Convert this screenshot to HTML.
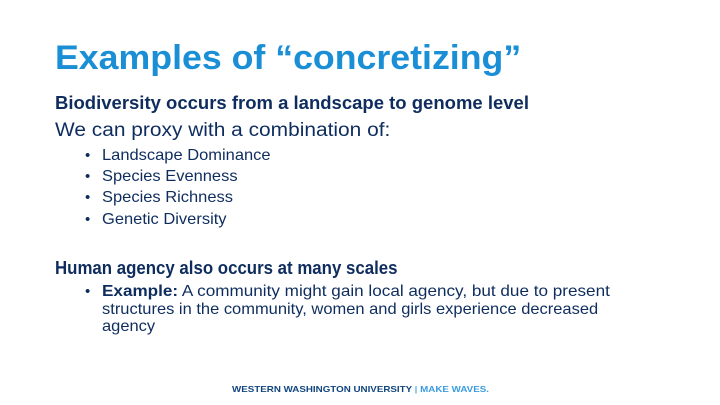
<!DOCTYPE html>
<html><head><meta charset="utf-8"><style>
body{margin:0;width:720px;height:405px;background:#fff;overflow:hidden;position:relative;font-family:"Liberation Sans",sans-serif;color:#0e2d5e}
.a{position:absolute;white-space:nowrap;transform-origin:0 50%}
.b{position:absolute;left:85px;font-size:15px;line-height:20px}
.t{position:absolute;left:102px;white-space:nowrap;transform-origin:0 50%;font-size:16px;line-height:20px;transform:scaleX(1.03)}
.e{transform:scaleX(1.07)}
</style></head><body>
<div class="a" style="left:55px;top:38px;font-size:34px;font-weight:bold;color:#1a8fd6;line-height:40px;transform:scaleX(1.05)">Examples of “concretizing”</div>
<div class="a" style="left:55px;top:92px;font-size:18.5px;font-weight:bold;line-height:22px;transform:scaleX(1.0)">Biodiversity occurs from a landscape to genome level</div>
<div class="a" style="left:55px;top:120px;font-size:19px;line-height:22px;transform:scaleX(1.1)">We can proxy with a combination of:</div>
<div>
<div class="b" style="top:146px">•</div><div class="t" style="top:146px">Landscape Dominance</div>
<div class="b" style="top:167px">•</div><div class="t" style="top:167px">Species Evenness</div>
<div class="b" style="top:188px">•</div><div class="t" style="top:188px">Species Richness</div>
<div class="b" style="top:210px">•</div><div class="t" style="top:210px">Genetic Diversity</div>
</div>
<div class="a" style="left:55px;top:257px;font-size:18.5px;font-weight:bold;line-height:22px;transform:scaleX(0.91)">Human agency also occurs at many scales</div>
<div class="b" style="top:282px">•</div>
<div class="t e" style="top:282px"><b>Example:</b> A community might gain local agency, but due to present</div>
<div class="t" style="top:300px">structures in the community, women and girls experience decreased</div>
<div class="t" style="top:317px">agency</div>
<div class="a" style="left:232px;top:383px;font-size:8.5px;font-weight:bold;line-height:12px;color:#10457f;transform:scaleX(1.15)">WESTERN WASHINGTON UNIVERSITY <span style="color:#5aaee0">|</span> <span style="color:#3a9be0">MAKE WAVES.</span></div>
</body></html>
